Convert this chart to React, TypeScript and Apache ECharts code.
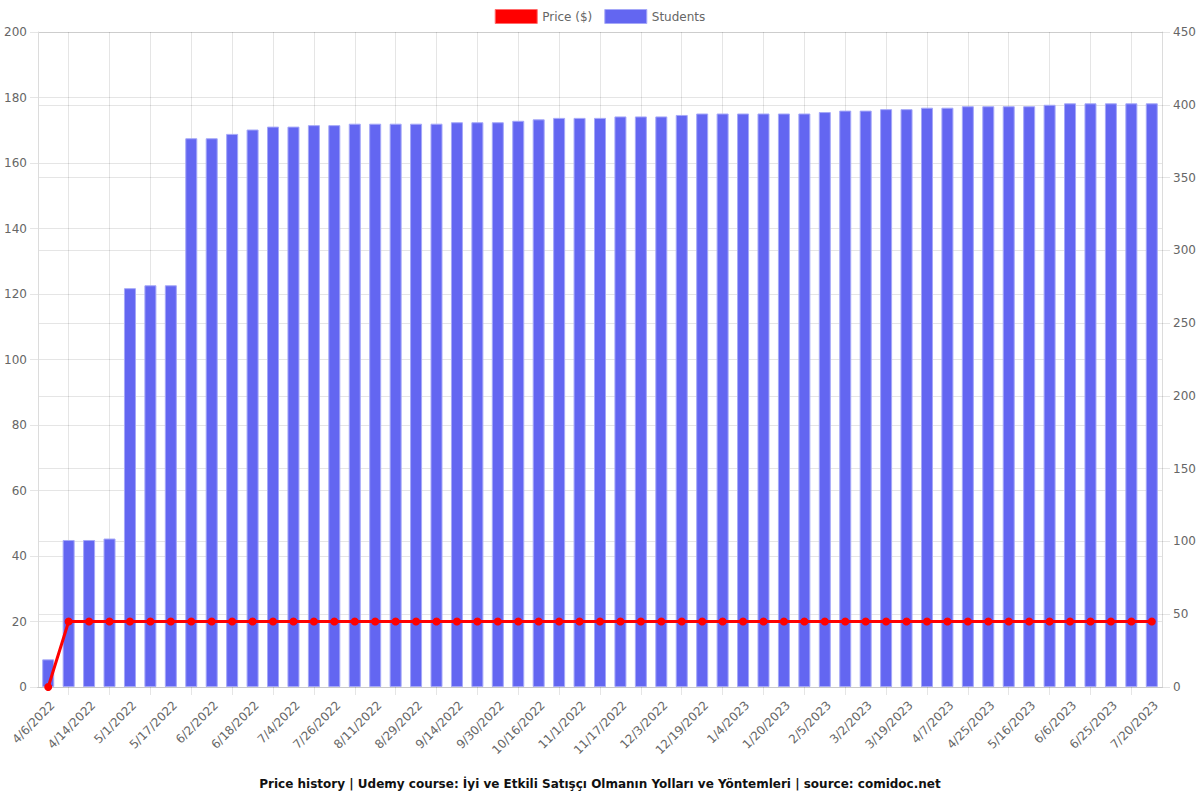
import React, { useEffect, useRef } from "react";
import * as echarts from "echarts";

const dates: string[] = [
  "4/6/2022", "4/10/2022", "4/14/2022", "4/22/2022", "5/1/2022", "5/9/2022", "5/17/2022", "5/25/2022",
  "6/2/2022", "6/10/2022", "6/18/2022", "6/26/2022", "7/4/2022", "7/15/2022", "7/26/2022", "8/3/2022",
  "8/11/2022", "8/20/2022", "8/29/2022", "9/6/2022", "9/14/2022", "9/22/2022", "9/30/2022", "10/8/2022",
  "10/16/2022", "10/24/2022", "11/1/2022", "11/9/2022", "11/17/2022", "11/25/2022", "12/3/2022", "12/11/2022",
  "12/19/2022", "12/27/2022", "1/4/2023", "1/12/2023", "1/20/2023", "1/28/2023", "2/5/2023", "2/17/2023",
  "3/2/2023", "3/10/2023", "3/19/2023", "3/28/2023", "4/7/2023", "4/16/2023", "4/25/2023", "5/5/2023",
  "5/16/2023", "5/26/2023", "6/6/2023", "6/15/2023", "6/25/2023", "7/7/2023", "7/20/2023",
];

const price: number[] = [
  0, 20, 20, 20, 20, 20, 20, 20, 20, 20, 20, 20, 20, 20, 20, 20, 20, 20, 20, 20,
  20, 20, 20, 20, 20, 20, 20, 20, 20, 20, 20, 20, 20, 20, 20, 20, 20, 20, 20, 20,
  20, 20, 20, 20, 20, 20, 20, 20, 20, 20, 20, 20, 20, 20, 20,
];

const students: number[] = [
  19, 101, 101, 102, 274, 276, 276, 377, 377, 380, 383, 385, 385, 386, 386, 387, 387, 387, 387, 387,
  388, 388, 388, 389, 390, 391, 391, 391, 392, 392, 392, 393, 394, 394, 394, 394, 394, 394, 395, 396,
  396, 397, 397, 398, 398, 399, 399, 399, 399, 400, 401, 401, 401, 401, 401,
];

const titleText =
  "Price history | Udemy course: İyi ve Etkili Satışçı Olmanın Yolları ve Yöntemleri | source: comidoc.net";

const FONT = "DejaVu Sans";
const GRID_LINE = "rgba(0,0,0,0.1)";
const LABEL = "#666";

export default function App() {
  const ref = useRef<HTMLDivElement>(null);
  useEffect(() => {
    document.body.style.margin = "0";
    if (!ref.current) return;
    const chart = echarts.init(ref.current, undefined, { renderer: "svg" });
    const odd = (i: number) => i % 2 === 1;
    chart.setOption({
      animation: false,
      textStyle: { fontFamily: FONT },
      title: {
        text: titleText,
        left: "center",
        top: 773,
        textStyle: { fontFamily: FONT, fontSize: 12, fontWeight: "bold", color: "#111" },
      },
      legend: {
        top: 4,
        left: "center",
        itemWidth: 42,
        itemHeight: 14,
        itemGap: 12,
        textStyle: { fontFamily: FONT, fontSize: 12, color: LABEL },
        data: [
          { name: "Price ($)", icon: "rect", itemStyle: { color: "#ff0000", borderColor: "#ff6b6b", borderWidth: 1 } },
          { name: "Students", icon: "rect", itemStyle: { color: "#6366f1", borderColor: "#a5a8f8", borderWidth: 1 } },
        ],
      },
      grid: { left: 38, right: 38, top: 32, bottom: 113, containLabel: false },
      xAxis: {
        type: "category",
        data: dates,
        boundaryGap: true,
        axisLine: { show: true, lineStyle: { color: "#c8c8c8" } },
        axisTick: { show: true, alignWithLabel: true, interval: odd, length: 8, lineStyle: { color: GRID_LINE } },
        splitLine: { show: true, alignWithLabel: true, interval: odd, lineStyle: { color: GRID_LINE } },
        axisLabel: {
          interval: 1,
          rotate: 45,
          margin: 12,
          verticalAlign: "top",
          color: LABEL,
          fontSize: 12,
          fontFamily: FONT,
        },
      },
      yAxis: [
        {
          type: "value",
          min: 0,
          max: 200,
          interval: 20,
          position: "left",
          axisLine: { show: true, lineStyle: { color: "#dcdcdc" } },
          axisTick: { show: true, length: 8, lineStyle: { color: GRID_LINE } },
          splitLine: { show: true, lineStyle: { color: GRID_LINE } },
          axisLabel: { margin: 11, color: LABEL, fontSize: 12, fontFamily: FONT },
        },
        {
          type: "value",
          min: 0,
          max: 450,
          interval: 50,
          position: "right",
          axisLine: { show: true, lineStyle: { color: "#dcdcdc" } },
          axisTick: { show: true, length: 8, lineStyle: { color: GRID_LINE } },
          splitLine: { show: true, lineStyle: { color: GRID_LINE } },
          axisLabel: { margin: 11, color: LABEL, fontSize: 12, fontFamily: FONT },
        },
      ],
      series: [
        {
          name: "Price ($)",
          type: "line",
          yAxisIndex: 0,
          data: price,
          z: 3,
          symbol: "circle",
          symbolSize: 8,
          lineStyle: { color: "#ff0000", width: 3 },
          itemStyle: { color: "#ff0000" },
        },
        {
          name: "Students",
          type: "bar",
          yAxisIndex: 1,
          data: students,
          z: 2,
          barWidth: 12,
          itemStyle: { color: "#6366f1", borderColor: "#a5a8f8", borderWidth: 1 },
        },
      ],
    });
    return () => chart.dispose();
  }, []);
  return <div ref={ref} style={{ width: 1200, height: 800 }} />;
}
